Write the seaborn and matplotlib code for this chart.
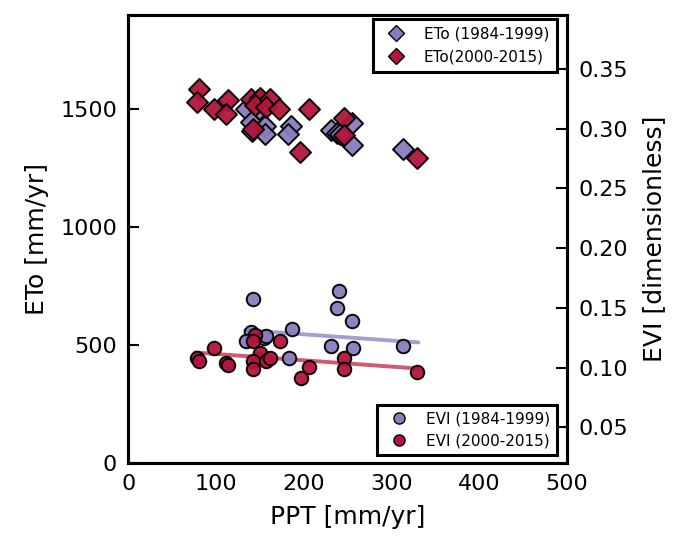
import numpy as np
import pandas as pd
import matplotlib
matplotlib.use("Agg")
import matplotlib.pyplot as plt
import seaborn as sns
from matplotlib.lines import Line2D

# ---------------- data ----------------
ppt_eto_early = [134, 149, 140, 141, 156, 156, 185.6, 182.6, 231, 237.7, 241.5, 255.5, 255.5, 313, 148]
eto_early = [1500, 1500, 1446, 1408, 1429, 1397, 1429, 1394, 1412, 1401, 1394, 1441, 1349, 1333, 1540]

ppt_eto_late = [81, 78, 98, 113.5, 111, 140, 150, 144.6, 162, 157, 172, 206, 141.6, 196, 246, 246, 329]
eto_late = [1588, 1533, 1500, 1538, 1482, 1543, 1550, 1521, 1543, 1512, 1500, 1504, 1419, 1320, 1465, 1391, 1292]

ppt_evi_early = [141.6, 240.7, 237.7, 254.8, 186.4, 140, 134, 155, 157, 231, 256.5, 183, 313.6, 148]
evi_early = [0.157, 0.164, 0.150, 0.139, 0.132, 0.130, 0.122, 0.125, 0.126, 0.118, 0.116, 0.108, 0.118, 0.107]

ppt_evi_late = [78, 81, 98, 111, 114, 144.6, 142, 150, 141.6, 141.6, 157, 162, 173, 196.7, 206.5, 246.4, 246, 329.5]
evi_late = [0.108, 0.1056, 0.116, 0.1034, 0.102, 0.127, 0.122, 0.112, 0.1056, 0.099, 0.1056, 0.108, 0.122,
            0.091, 0.1005, 0.108, 0.099, 0.0963]

# fitted trend lines (endpoints)
trend_x_early = [133, 330.6]
trend_evi_early = [0.1313, 0.1210]
trend_x_late = [76, 329.5]
trend_evi_late = [0.1126, 0.0992]

labels_eto = ["ETo (1984-1999)", "ETo(2000-2015)"]
labels_evi = ["EVI (1984-1999)", "EVI (2000-2015)"]

purple = "#8a7dbd"
red = "#b3153c"
purple_line = "#a99ccf"
red_line = "#cf5a72"

# ---------------- figure ----------------
sns.set_style("white")
plt.rcParams["font.family"] = ["DejaVu Sans"]
plt.rcParams["axes.linewidth"] = 2.0
plt.rcParams["text.color"] = "black"
plt.rcParams["axes.labelcolor"] = "black"
plt.rcParams["xtick.color"] = "black"
plt.rcParams["ytick.color"] = "black"

fig, ax = plt.subplots(figsize=(6.75, 5.41), dpi=100)
fig.subplots_adjust(left=0.19, right=0.84, bottom=0.144, top=0.972)
ax2 = ax.twinx()

sns.scatterplot(x=ppt_eto_early, y=eto_early, ax=ax, marker="D", s=115, color=purple,
                edgecolor="black", linewidth=1.4, alpha=0.95, zorder=3)
sns.scatterplot(x=ppt_eto_late, y=eto_late, ax=ax, marker="D", s=115, color=red,
                edgecolor="black", linewidth=1.4, alpha=0.95, zorder=4)

sns.lineplot(x=trend_x_early, y=trend_evi_early, ax=ax2, color=purple_line, linewidth=2.8, zorder=1)
sns.lineplot(x=trend_x_late, y=trend_evi_late, ax=ax2, color=red_line, linewidth=2.8, zorder=1)
sns.scatterplot(x=ppt_evi_early, y=evi_early, ax=ax2, marker="o", s=95, color=purple,
                edgecolor="black", linewidth=1.4, alpha=0.95, zorder=3)
sns.scatterplot(x=ppt_evi_late, y=evi_late, ax=ax2, marker="o", s=95, color=red,
                edgecolor="black", linewidth=1.4, alpha=0.95, zorder=4)

ax.set_xlim(0, 500)
ax.set_ylim(0, 1900)
ax2.set_ylim(0.02, 0.395)
ax.set_xticks([0, 100, 200, 300, 400, 500])
ax.set_yticks([0, 500, 1000, 1500])
ax2.set_yticks([0.05, 0.10, 0.15, 0.20, 0.25, 0.30, 0.35])
ax2.set_yticklabels(["0.05", "0.10", "0.15", "0.20", "0.25", "0.30", "0.35"])

ax.tick_params(axis="both", direction="in", length=8, width=1.5, labelsize=16,
               top=False, right=False, pad=8)
ax2.tick_params(axis="y", direction="in", length=8, width=1.5, labelsize=16, pad=8)

ax.set_xlabel("PPT [mm/yr]", fontsize=18, labelpad=8)
ax.set_ylabel("ETo [mm/yr]", fontsize=18, labelpad=8)
ax2.set_ylabel("EVI [dimensionless]", fontsize=18, labelpad=10)

for a in (ax, ax2):
    for sp in a.spines.values():
        sp.set_color("black")
        sp.set_linewidth(2.2)

h_eto = [Line2D([], [], marker="D", ls="", markersize=8, markerfacecolor=purple, markeredgecolor="black"),
         Line2D([], [], marker="D", ls="", markersize=8, markerfacecolor=red, markeredgecolor="black")]
h_evi = [Line2D([], [], marker="o", ls="", markersize=8, markerfacecolor=purple, markeredgecolor="black"),
         Line2D([], [], marker="o", ls="", markersize=8, markerfacecolor=red, markeredgecolor="black")]

leg1 = ax2.legend(h_eto, labels_eto, loc="upper right", fontsize=11, fancybox=False,
                  edgecolor="black", framealpha=1, borderaxespad=0.25, handletextpad=0.8,
                  borderpad=0.5, labelspacing=0.5, bbox_to_anchor=(0.985, 1.0))
leg1.get_frame().set_linewidth(2.2)
ax2.add_artist(leg1)
leg2 = ax2.legend(h_evi, labels_evi, loc="lower right", fontsize=11, fancybox=False,
                  edgecolor="black", framealpha=1, borderaxespad=0.5, handletextpad=0.8,
                  borderpad=0.45, labelspacing=0.45, bbox_to_anchor=(0.995, 0.0))
leg2.get_frame().set_linewidth(2.2)

fig.savefig("out.png", dpi=100)
